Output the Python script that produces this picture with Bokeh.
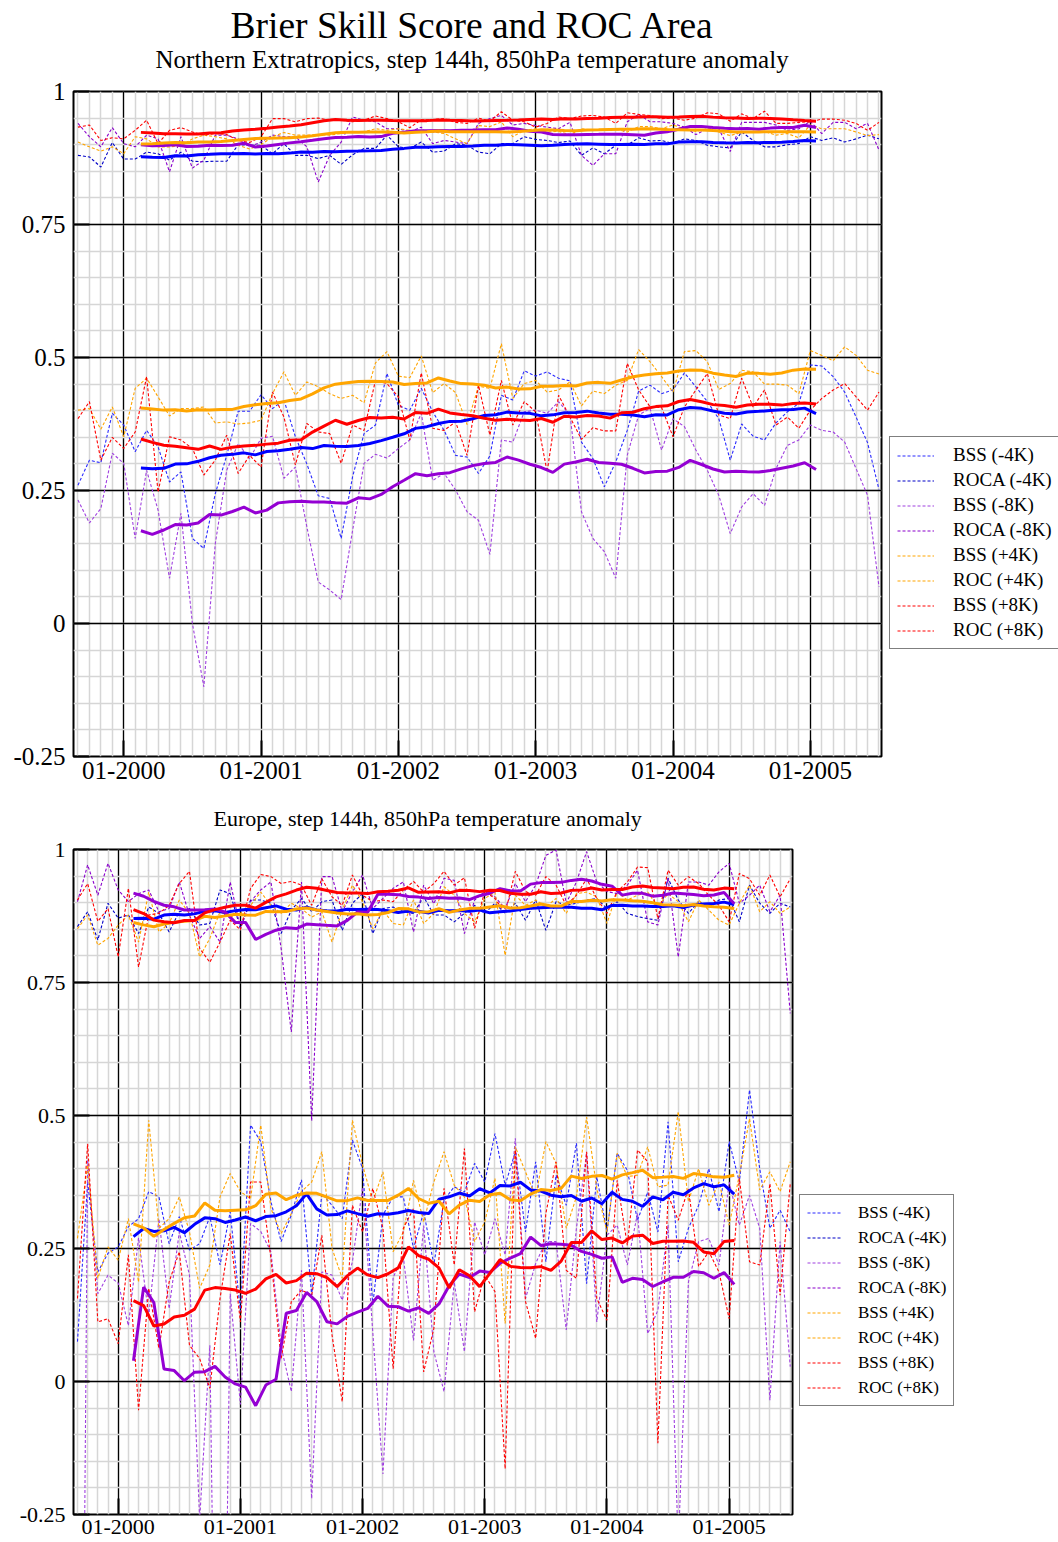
import numpy as np
from bokeh.plotting import figure
from bokeh.models import Range1d, FixedTicker, Legend, LegendItem, Title
from bokeh.layouts import column
from bokeh.embed import file_html
from bokeh.resources import INLINE

# ---------------- data ----------------
FIRST_YEAR, FIRST_MONTH = 1999, 9          # first monthly value: 09-1999
N_MONTHS = 71                               # 09-1999 ... 07-2005
X_TICK_LABELS = ["01-2000", "01-2001", "01-2002", "01-2003", "01-2004", "01-2005"]
Y_TICK_VALUES = [-0.25, 0.0, 0.25, 0.5, 0.75, 1.0]
Y_TICK_LABELS = ["-0.25", "0", "0.25", "0.5", "0.75", "1"]

SERIES_LABELS = ["BSS (-4K)", "ROCA (-4K)", "BSS (-8K)", "ROCA (-8K)",
                 "BSS (+4K)", "ROC (+4K)", "BSS (+8K)", "ROC (+8K)"]
DASH_COLORS = ["#2a2aff", "#0000c8", "#a040e0", "#8a00cc",
               "#ffa500", "#ffa500", "#ff0000", "#ff0000"]
MEAN_COLORS = ["#0000ff", "#0000ff", "#9400d3", "#9400d3",
               "#ffa500", "#ffa500", "#ff0000", "#ff0000"]

# Northern Extratropics
nh_bss_m4 = [0.260, 0.307, 0.302, 0.395, 0.373, 0.323, 0.363, 0.332, 0.266, 0.285, 0.160, 0.141,
             0.244, 0.316, 0.399, 0.399, 0.430, 0.404, 0.420, 0.351, 0.300, 0.240, 0.235, 0.160,
             0.276, 0.357, 0.373, 0.470, 0.410, 0.401, 0.442, 0.398, 0.363, 0.316, 0.313, 0.282,
             0.315, 0.429, 0.420, 0.475, 0.465, 0.473, 0.461, 0.456, 0.341, 0.310, 0.257, 0.304,
             0.363, 0.437, 0.448, 0.432, 0.439, 0.471, 0.445, 0.417, 0.385, 0.307, 0.375, 0.352,
             0.345, 0.377, 0.398, 0.414, 0.486, 0.484, 0.464, 0.435, 0.388, 0.340, 0.252]
nh_roc_m4 = [0.880, 0.877, 0.858, 0.904, 0.873, 0.873, 0.886, 0.883, 0.871, 0.886, 0.869, 0.868,
             0.869, 0.869, 0.900, 0.899, 0.899, 0.883, 0.902, 0.880, 0.880, 0.874, 0.880, 0.863,
             0.881, 0.893, 0.893, 0.918, 0.896, 0.893, 0.905, 0.886, 0.888, 0.902, 0.899, 0.886,
             0.883, 0.902, 0.902, 0.915, 0.910, 0.908, 0.904, 0.907, 0.880, 0.894, 0.883, 0.899,
             0.899, 0.913, 0.907, 0.908, 0.902, 0.911, 0.908, 0.899, 0.896, 0.894, 0.924, 0.908,
             0.896, 0.896, 0.900, 0.902, 0.915, 0.908, 0.913, 0.905, 0.911, 0.918, 0.911]
nh_bss_m8 = [0.232, 0.189, 0.216, 0.320, 0.301, 0.160, 0.288, 0.213, 0.085, 0.207, 0.000, -0.119,
             0.150, 0.288, 0.338, 0.310, 0.348, 0.352, 0.273, 0.294, 0.182, 0.078, 0.063, 0.045,
             0.175, 0.301, 0.318, 0.311, 0.329, 0.345, 0.395, 0.269, 0.282, 0.251, 0.210, 0.194,
             0.130, 0.345, 0.341, 0.398, 0.401, 0.395, 0.417, 0.392, 0.210, 0.160, 0.135, 0.085,
             0.316, 0.392, 0.404, 0.326, 0.385, 0.370, 0.326, 0.288, 0.241, 0.169, 0.219, 0.244,
             0.222, 0.291, 0.335, 0.345, 0.373, 0.363, 0.360, 0.341, 0.291, 0.241, 0.069]
nh_roc_m8 = [0.940, 0.915, 0.896, 0.932, 0.902, 0.896, 0.918, 0.911, 0.849, 0.915, 0.856, 0.871,
             0.918, 0.918, 0.911, 0.896, 0.905, 0.918, 0.915, 0.915, 0.896, 0.830, 0.880, 0.905,
             0.952, 0.946, 0.943, 0.930, 0.930, 0.924, 0.933, 0.902, 0.908, 0.905, 0.902, 0.940,
             0.949, 0.955, 0.937, 0.940, 0.936, 0.933, 0.930, 0.942, 0.880, 0.861, 0.883, 0.883,
             0.943, 0.957, 0.943, 0.943, 0.940, 0.933, 0.919, 0.930, 0.930, 0.887, 0.942, 0.942,
             0.942, 0.937, 0.927, 0.930, 0.944, 0.921, 0.942, 0.942, 0.930, 0.940, 0.890]
nh_bss_p4 = [0.401, 0.404, 0.365, 0.407, 0.351, 0.442, 0.461, 0.426, 0.390, 0.404, 0.404, 0.407,
             0.377, 0.379, 0.375, 0.377, 0.382, 0.432, 0.473, 0.429, 0.454, 0.445, 0.432, 0.423,
             0.429, 0.415, 0.490, 0.511, 0.465, 0.462, 0.503, 0.434, 0.451, 0.434, 0.374, 0.446,
             0.442, 0.526, 0.423, 0.451, 0.457, 0.435, 0.439, 0.454, 0.409, 0.437, 0.432, 0.448,
             0.457, 0.515, 0.492, 0.464, 0.435, 0.511, 0.513, 0.492, 0.440, 0.451, 0.476, 0.473,
             0.450, 0.450, 0.448, 0.432, 0.513, 0.504, 0.494, 0.520, 0.504, 0.476, 0.469]
nh_roc_p4 = [0.905, 0.896, 0.888, 0.896, 0.883, 0.915, 0.911, 0.896, 0.896, 0.898, 0.911, 0.918,
             0.915, 0.911, 0.899, 0.892, 0.900, 0.915, 0.923, 0.918, 0.918, 0.919, 0.918, 0.921,
             0.924, 0.924, 0.930, 0.927, 0.930, 0.927, 0.924, 0.924, 0.921, 0.911, 0.902, 0.936,
             0.934, 0.943, 0.915, 0.927, 0.930, 0.924, 0.925, 0.919, 0.930, 0.927, 0.929, 0.929,
             0.924, 0.934, 0.934, 0.930, 0.937, 0.930, 0.925, 0.930, 0.924, 0.917, 0.924, 0.924,
             0.925, 0.918, 0.921, 0.913, 0.937, 0.930, 0.930, 0.930, 0.924, 0.917, 0.919]
nh_bss_p8 = [0.385, 0.417, 0.307, 0.350, 0.329, 0.360, 0.464, 0.247, 0.351, 0.345, 0.329, 0.279,
             0.307, 0.354, 0.282, 0.316, 0.294, 0.435, 0.388, 0.298, 0.376, 0.360, 0.357, 0.301,
             0.373, 0.363, 0.457, 0.451, 0.426, 0.345, 0.471, 0.367, 0.363, 0.379, 0.316, 0.448,
             0.354, 0.457, 0.373, 0.417, 0.398, 0.285, 0.429, 0.388, 0.346, 0.368, 0.362, 0.362,
             0.489, 0.439, 0.407, 0.406, 0.351, 0.407, 0.439, 0.470, 0.392, 0.385, 0.461, 0.407,
             0.439, 0.373, 0.388, 0.367, 0.401, 0.423, 0.439, 0.451, 0.426, 0.401, 0.435]
nh_roc_p8 = [0.933, 0.937, 0.908, 0.913, 0.911, 0.927, 0.946, 0.902, 0.927, 0.932, 0.924, 0.918,
             0.921, 0.919, 0.908, 0.904, 0.915, 0.949, 0.949, 0.943, 0.949, 0.950, 0.946, 0.946,
             0.943, 0.946, 0.954, 0.949, 0.943, 0.932, 0.947, 0.947, 0.949, 0.942, 0.940, 0.950,
             0.944, 0.962, 0.946, 0.943, 0.933, 0.940, 0.952, 0.949, 0.954, 0.955, 0.952, 0.940,
             0.960, 0.957, 0.955, 0.949, 0.950, 0.946, 0.950, 0.960, 0.958, 0.944, 0.958, 0.949,
             0.963, 0.940, 0.940, 0.942, 0.943, 0.948, 0.948, 0.946, 0.940, 0.927, 0.942]

# Europe
eu_bss_m4 = [0.075, 0.375, 0.206, 0.241, 0.253, 0.291, 0.306, 0.357, 0.347, 0.259, 0.310, 0.247,
             0.259, 0.310, 0.219, 0.319, 0.131, 0.482, 0.451, 0.338, 0.263, 0.313, 0.379, 0.162,
             0.353, 0.331, 0.306, 0.454, 0.400, 0.144, 0.313, 0.347, 0.347, 0.250, 0.319, 0.220,
             0.341, 0.366, 0.356, 0.410, 0.375, 0.466, 0.369, 0.432, 0.281, 0.413, 0.225, 0.388,
             0.331, 0.448, 0.184, 0.385, 0.281, 0.429, 0.397, 0.303, 0.356, 0.281, 0.488, 0.225,
             0.288, 0.331, 0.400, 0.319, 0.451, 0.375, 0.548, 0.400, 0.288, 0.322, 0.281]
eu_roc_m4 = [0.855, 0.883, 0.830, 0.899, 0.871, 0.877, 0.842, 0.892, 0.880, 0.845, 0.883, 0.889,
             0.858, 0.861, 0.924, 0.917, 0.852, 0.905, 0.905, 0.899, 0.842, 0.886, 0.908, 0.883,
             0.902, 0.905, 0.848, 0.899, 0.917, 0.842, 0.889, 0.892, 0.883, 0.880, 0.911, 0.877,
             0.877, 0.864, 0.880, 0.895, 0.880, 0.899, 0.880, 0.899, 0.867, 0.905, 0.848, 0.902,
             0.895, 0.899, 0.905, 0.908, 0.889, 0.902, 0.880, 0.874, 0.870, 0.867, 0.946, 0.905,
             0.880, 0.902, 0.892, 0.905, 0.908, 0.864, 0.933, 0.899, 0.880, 0.899, 0.892]
eu_bss_m8 = [-1.920, 0.416, 0.165, 0.200, 0.185, 0.105, 0.270, 0.124, 0.306, 0.137, 0.281, 0.200,
             -0.260, 0.068, -1.335, 0.165, -0.043, 0.297, 0.282, 0.244, 0.066, -0.019, 0.209, -0.220,
             0.206, 0.200, 0.153, 0.225, 0.365, 0.093, -0.174, 0.196, 0.234, 0.077, 0.293, 0.056,
             -0.019, 0.187, 0.056, 0.300, 0.238, 0.306, 0.238, 0.457, 0.156, 0.222, 0.263, 0.263,
             0.097, 0.288, 0.429, 0.112, 0.275, 0.294, 0.219, 0.316, 0.090, 0.134, 0.294, -0.310,
             0.187, 0.263, 0.269, 0.219, 0.375, 0.294, 0.350, 0.288, -0.035, 0.263, 0.028]
eu_roc_m8 = [0.902, 0.971, 0.914, 0.974, 0.924, 0.902, 0.917, 0.924, 0.883, 0.889, 0.939, 0.876,
             0.833, 0.855, 0.826, 0.939, 0.852, 0.902, 0.924, 0.939, 0.814, 0.657, 0.939, 0.490,
             0.949, 0.949, 0.883, 0.920, 0.952, 0.889, 0.908, 0.927, 0.939, 0.845, 0.933, 0.898,
             0.946, 0.942, 0.842, 0.905, 0.921, 0.911, 0.889, 0.936, 0.902, 0.933, 0.989, 0.999,
             0.899, 0.939, 0.996, 0.939, 0.921, 0.917, 0.933, 0.961, 0.864, 0.858, 0.946, 0.798,
             0.939, 0.939, 0.933, 0.958, 0.974, 0.899, 0.914, 0.933, 0.883, 0.914, 0.692]
eu_bss_p4 = [0.269, 0.407, 0.194, 0.253, 0.228, 0.306, 0.187, 0.491, 0.288, 0.306, 0.347, 0.281,
             0.175, 0.219, 0.347, 0.391, 0.357, 0.344, 0.482, 0.325, 0.278, 0.316, 0.357, 0.375,
             0.432, 0.250, 0.194, 0.491, 0.407, 0.338, 0.394, 0.244, 0.281, 0.378, 0.300, 0.375,
             0.432, 0.369, 0.347, 0.263, 0.300, 0.382, 0.109, 0.441, 0.394, 0.347, 0.451, 0.410,
             0.288, 0.347, 0.497, 0.363, 0.281, 0.429, 0.385, 0.388, 0.441, 0.366, 0.369, 0.507,
             0.338, 0.400, 0.331, 0.375, 0.294, 0.388, 0.494, 0.360, 0.394, 0.357, 0.413]
eu_roc_p4 = [0.851, 0.877, 0.820, 0.833, 0.858, 0.877, 0.826, 0.920, 0.845, 0.861, 0.905, 0.880,
             0.798, 0.833, 0.883, 0.873, 0.880, 0.895, 0.920, 0.895, 0.880, 0.899, 0.889, 0.873,
             0.883, 0.826, 0.886, 0.933, 0.902, 0.851, 0.886, 0.861, 0.858, 0.905, 0.861, 0.880,
             0.930, 0.914, 0.880, 0.864, 0.908, 0.920, 0.801, 0.914, 0.895, 0.905, 0.892, 0.908,
             0.880, 0.917, 0.920, 0.911, 0.861, 0.920, 0.905, 0.914, 0.920, 0.892, 0.917, 0.902,
             0.864, 0.905, 0.886, 0.867, 0.858, 0.899, 0.933, 0.883, 0.902, 0.880, 0.892]
eu_bss_p8 = [0.156, 0.447, 0.112, 0.118, 0.071, 0.238, -0.054, 0.175, 0.062, 0.187, 0.244, 0.068,
             0.043, -0.013, 0.156, 0.278, 0.112, 0.375, 0.375, 0.231, 0.043, 0.150, 0.172, 0.162,
             0.275, 0.087, -0.038, 0.331, 0.281, 0.363, 0.288, 0.024, 0.288, 0.325, 0.018, 0.100,
             0.363, 0.219, 0.438, 0.131, 0.200, 0.169, -0.164, 0.435, 0.150, 0.081, 0.316, 0.413,
             0.209, 0.194, 0.432, 0.156, 0.115, 0.378, 0.256, 0.435, 0.413, -0.116, 0.350, 0.303,
             0.363, 0.216, 0.244, 0.206, 0.118, 0.382, 0.225, 0.219, 0.372, 0.162, 0.372]
eu_roc_p8 = [0.905, 0.936, 0.865, 0.889, 0.798, 0.927, 0.779, 0.877, 0.880, 0.895, 0.936, 0.959,
             0.814, 0.788, 0.826, 0.867, 0.849, 0.927, 0.953, 0.949, 0.936, 0.940, 0.933, 0.895,
             0.945, 0.911, 0.895, 0.952, 0.914, 0.902, 0.905, 0.902, 0.924, 0.940, 0.920, 0.936,
             0.959, 0.933, 0.947, 0.852, 0.921, 0.908, 0.880, 0.959, 0.921, 0.914, 0.949, 0.933,
             0.895, 0.914, 0.945, 0.908, 0.880, 0.921, 0.939, 0.967, 0.966, 0.870, 0.961, 0.933,
             0.949, 0.936, 0.914, 0.895, 0.864, 0.955, 0.945, 0.914, 0.952, 0.911, 0.945]

NH_SERIES = [nh_bss_m4, nh_roc_m4, nh_bss_m8, nh_roc_m8, nh_bss_p4, nh_roc_p4, nh_bss_p8, nh_roc_p8]
EU_SERIES = [eu_bss_m4, eu_roc_m4, eu_bss_m8, eu_roc_m8, eu_bss_p4, eu_roc_p4, eu_bss_p8, eu_roc_p8]

MAIN_TITLE = "Brier Skill Score and ROC Area"
NH_SUBTITLE = "Northern Extratropics, step 144h, 850hPa temperature anomaly"
EU_SUBTITLE = "Europe, step 144h, 850hPa temperature anomaly"

FONT = "Liberation Serif"
WINDOW = 12  # running mean length (months)


def tick_index(label):
    mm, yyyy = label.split("-")
    return (int(yyyy) - FIRST_YEAR) * 12 + int(mm) - FIRST_MONTH


def running_mean(vals):
    v = np.asarray(vals, dtype=float)
    m = np.convolve(v, np.ones(WINDOW) / WINDOW, mode="valid")
    x = np.arange(len(m)) + (WINDOW - 1) / 2.0
    return x, m


def make_panel(series, subtitle, main_title, frame_w, left, right, top, bottom,
               tick_fs, y_standoff, sub_fs, sub_standoff, sub_valign, sub_offset,
               legend_fs, glyph_w, label_standoff, legend_spacing, legend_xy):
    p = figure(frame_width=frame_w, frame_height=665,
               x_range=Range1d(-0.39, N_MONTHS - 1 + 0.22),
               y_range=Range1d(-0.25, 1.0),
               output_backend="svg", toolbar_location=None, title=None,
               min_border_left=left, min_border_right=right,
               min_border_top=top, min_border_bottom=bottom)
    p.background_fill_color = "white"
    p.border_fill_color = "white"
    p.outline_line_color = "black"
    p.outline_line_width = 2
    p.outline_line_alpha = 1.0

    x_major = [tick_index(l) for l in X_TICK_LABELS]
    p.xaxis.ticker = FixedTicker(ticks=x_major, minor_ticks=list(range(N_MONTHS)))
    p.xaxis.major_label_overrides = {t: l for t, l in zip(x_major, X_TICK_LABELS)}
    y_minor = [round(-0.25 + 0.05 * i, 2) for i in range(26)]
    p.yaxis.ticker = FixedTicker(ticks=Y_TICK_VALUES, minor_ticks=y_minor)
    p.yaxis.major_label_overrides = {t: l for t, l in zip(Y_TICK_VALUES, Y_TICK_LABELS)}

    for ax in (p.xaxis[0], p.yaxis[0]):
        ax.axis_line_color = None
        ax.major_tick_out = 0
        ax.major_tick_line_width = 2
        ax.minor_tick_in = 0
        ax.minor_tick_out = 0
        ax.major_label_text_font = FONT
        ax.major_label_text_font_size = f"{tick_fs}px"
        ax.major_label_text_color = "black"
    p.xaxis.major_tick_in = 16
    p.yaxis.major_tick_in = 16
    p.xaxis.major_label_standoff = 5
    p.yaxis.major_label_standoff = y_standoff

    for g in (p.xgrid[0], p.ygrid[0]):
        g.grid_line_color = "black"
        g.grid_line_width = 1.3
        g.minor_grid_line_color = "#d6d6d6"
        g.minor_grid_line_width = 1.5

    xs = np.arange(N_MONTHS)
    items = []
    for vals, lab, col in zip(series, SERIES_LABELS, DASH_COLORS):
        r = p.line(xs, vals, line_color=col, line_width=1.1, line_dash="3 2")
        items.append(LegendItem(label=lab, renderers=[r]))
    for vals, col in zip(series, MEAN_COLORS):
        mx, my = running_mean(vals)
        p.line(mx, my, line_color=col, line_width=3)

    legend = Legend(items=items, location=legend_xy, margin=0, padding=7,
                    spacing=legend_spacing, glyph_width=glyph_w, glyph_height=21,
                    label_height=21, label_standoff=label_standoff,
                    label_text_font=FONT, label_text_font_size=f"{legend_fs}px",
                    label_text_color="black",
                    border_line_color="black", border_line_width=1,
                    background_fill_color="white", background_fill_alpha=1.0)
    p.add_layout(legend, "right")

    p.add_layout(Title(text=subtitle, align="left", offset=sub_offset, text_font=FONT,
                       text_font_size=f"{sub_fs}px", text_font_style="normal",
                       text_color="black", standoff=sub_standoff,
                       vertical_align=sub_valign), "above")
    if main_title:
        p.add_layout(Title(text=main_title, align="left", offset=157, text_font=FONT,
                           text_font_size="37.5px", text_font_style="normal",
                           text_color="black", standoff=-40), "above")
    return p


p_nh = make_panel(NH_SERIES, NH_SUBTITLE, MAIN_TITLE, frame_w=808, left=67, right=183,
                  top=91, bottom=33, tick_fs=25, y_standoff=8, sub_fs=25, sub_standoff=37,
                  sub_valign="bottom", sub_offset=82, legend_fs=19, glyph_w=37,
                  label_standoff=19, legend_spacing=3, legend_xy=(8, 107))
p_eu = make_panel(EU_SERIES, EU_SUBTITLE, None, frame_w=719, left=73, right=266,
                  top=59, bottom=29, tick_fs=22, y_standoff=8, sub_fs=22, sub_standoff=33,
                  sub_valign="top", sub_offset=140, legend_fs=17, glyph_w=35,
                  label_standoff=16, legend_spacing=4, legend_xy=(7, 108))

layout = column(p_nh, p_eu, spacing=0)
open("out.html", "w").write(file_html(layout, INLINE))
